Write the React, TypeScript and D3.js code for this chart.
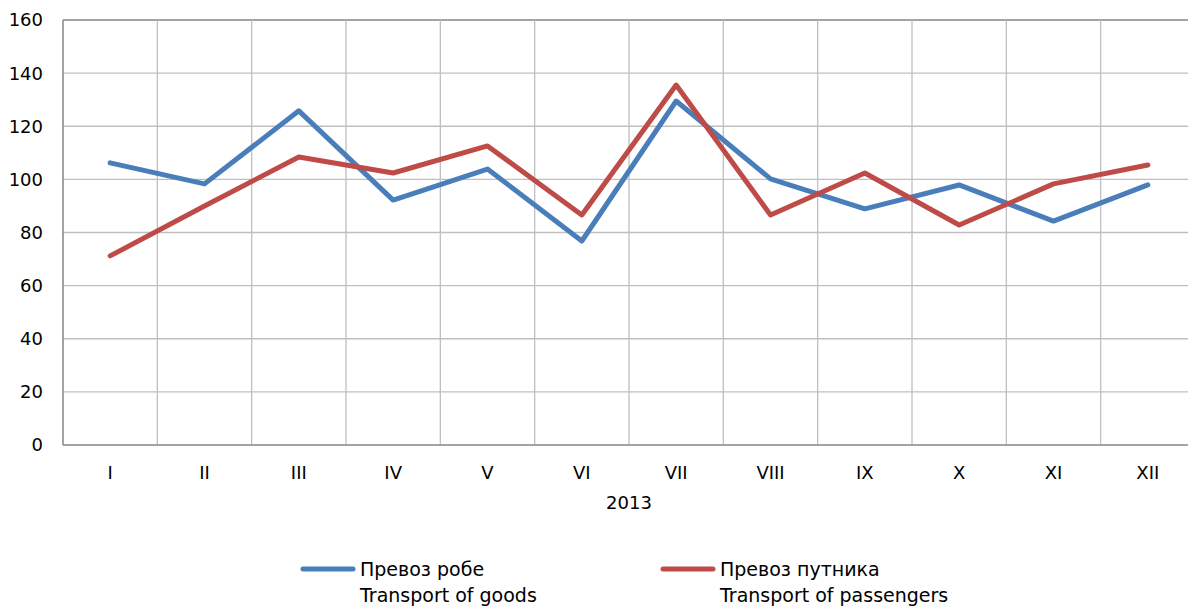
import React, { useRef, useEffect } from "react";
import * as d3 from "d3";

const months = ["I", "II", "III", "IV", "V", "VI", "VII", "VIII", "IX", "X", "XI", "XII"];
const goods = [106.2, 98.3, 125.8, 92.2, 103.9, 76.8, 129.5, 100.2, 88.9, 97.9, 84.3, 97.9];
const passengers = [71.2, 90.0, 108.4, 102.4, 112.6, 86.6, 135.5, 86.6, 102.4, 82.8, 98.3, 105.4];
const yTicks = [0, 20, 40, 60, 80, 100, 120, 140, 160];
const yearLabel = "2013";
const seriesNames = [
  ["Превоз робе", "Transport of goods"],
  ["Превоз путника", "Transport of passengers"],
];
const colors = ["#4a7ebb", "#be4b48"];

const W = 1188;
const H = 608;
const left = 63;
const right = 1195;
const top = 20;
const bottom = 445;
const font = "'DejaVu Sans', Verdana, sans-serif";

function LineChart() {
  const svgRef = useRef<SVGSVGElement>(null);

  useEffect(() => {
    const svg = d3.select(svgRef.current);
    svg.selectAll("*").remove();

    const x = d3.scaleBand().domain(months).range([left, right]);
    const y = d3.scaleLinear().domain([0, 160]).range([bottom, top]);

    // horizontal gridlines
    svg
      .append("g")
      .selectAll("line")
      .data(yTicks.slice(1))
      .join("line")
      .attr("x1", left)
      .attr("x2", right)
      .attr("y1", (d) => y(d))
      .attr("y2", (d) => y(d))
      .attr("stroke", (d) => (d === 160 ? "#868686" : "#bfbfbf"))
      .attr("stroke-width", 1.3);

    // vertical gridlines at category edges
    svg
      .append("g")
      .selectAll("line")
      .data(months.slice(1))
      .join("line")
      .attr("x1", (d) => x(d)!)
      .attr("x2", (d) => x(d)!)
      .attr("y1", top)
      .attr("y2", bottom)
      .attr("stroke", "#bfbfbf")
      .attr("stroke-width", 1.3);

    // axes lines
    svg.append("line").attr("x1", left).attr("x2", left).attr("y1", top).attr("y2", bottom)
      .attr("stroke", "#868686").attr("stroke-width", 1.5);
    svg.append("line").attr("x1", left).attr("x2", right).attr("y1", bottom).attr("y2", bottom)
      .attr("stroke", "#868686").attr("stroke-width", 1.5);

    // y labels
    svg
      .append("g")
      .selectAll("text")
      .data(yTicks)
      .join("text")
      .attr("x", 43)
      .attr("y", (d) => y(d))
      .attr("dy", "0.36em")
      .attr("text-anchor", "end")
      .attr("font-family", font)
      .attr("font-size", 18)
      .attr("fill", "#000")
      .text((d) => d);

    // x labels
    svg
      .append("g")
      .selectAll("text")
      .data(months)
      .join("text")
      .attr("x", (d) => x(d)! + x.bandwidth() / 2)
      .attr("y", 473)
      .attr("dy", "0.36em")
      .attr("text-anchor", "middle")
      .attr("font-family", font)
      .attr("font-size", 18)
      .attr("fill", "#000")
      .text((d) => d);

    svg
      .append("text")
      .attr("x", (left + right) / 2)
      .attr("y", 503)
      .attr("dy", "0.36em")
      .attr("text-anchor", "middle")
      .attr("font-family", font)
      .attr("font-size", 18)
      .text(yearLabel);

    const line = d3
      .line<number>()
      .x((_, i) => x(months[i])! + x.bandwidth() / 2)
      .y((d) => y(d));

    [goods, passengers].forEach((s, i) => {
      svg
        .append("path")
        .datum(s)
        .attr("d", line)
        .attr("fill", "none")
        .attr("stroke", colors[i])
        .attr("stroke-width", 5)
        .attr("stroke-linejoin", "round")
        .attr("stroke-linecap", "round");
    });

    // legend
    const legendX = [303, 663];
    seriesNames.forEach((names, i) => {
      const g = svg.append("g");
      g.append("line")
        .attr("x1", legendX[i])
        .attr("x2", legendX[i] + 50)
        .attr("y1", 569)
        .attr("y2", 569)
        .attr("stroke", colors[i])
        .attr("stroke-width", 5)
        .attr("stroke-linecap", "round");
      names.forEach((t, j) => {
        g.append("text")
          .attr("x", legendX[i] + 57)
          .attr("y", 569 + j * 26)
          .attr("dy", "0.36em")
          .attr("font-family", font)
          .attr("font-size", 19)
          .text(t);
      });
    });
  }, []);

  return (
    <svg
      ref={svgRef}
      width={W}
      height={H}
      style={{ position: "absolute", left: 0, top: 0, background: "#fff" }}
    />
  );
}

export default function App() {
  return <LineChart />;
}
